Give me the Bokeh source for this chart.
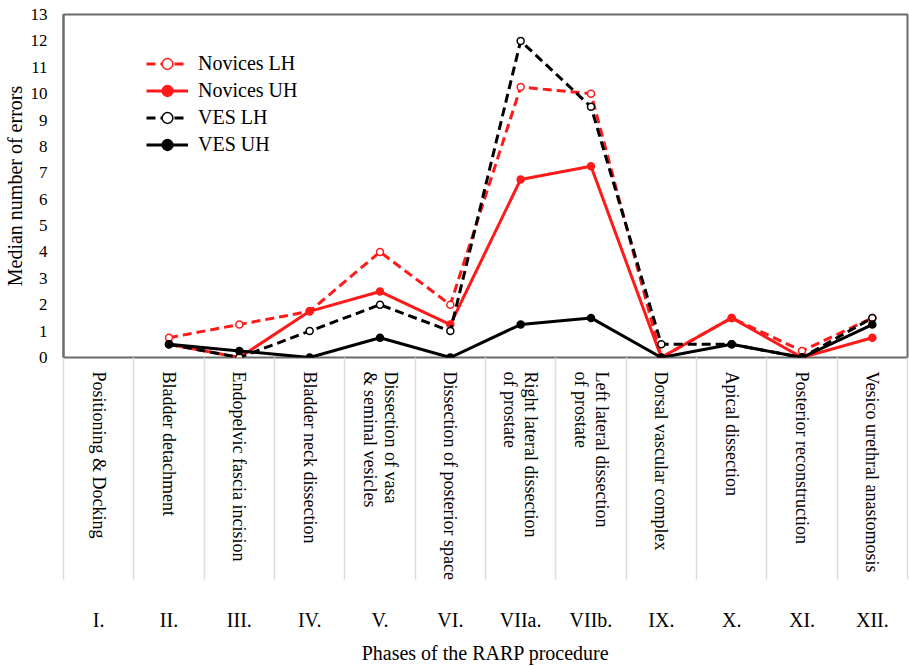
import math
import numpy as np
from bokeh.plotting import figure
from bokeh.models import (Range1d, LinearAxis, FixedTicker, Legend, LegendItem)
from bokeh.embed import file_html
from bokeh.resources import INLINE

phases = ["I.", "II.", "III.", "IV.", "V.", "VI.", "VIIa.", "VIIb.", "IX.", "X.", "XI.", "XII."]
phase_names = ["Positioning & Docking", "Bladder detachment", "Endopelvic fascia incision",
               "Bladder neck dissection", "Dissection of vasa\n& seminal vesicles",
               "Dissection of posterior space", "Right lateral dissection\nof prostate",
               "Left lateral dissection\nof prostate", "Dorsal vascular complex",
               "Apical dissection", "Posterior reconstruction", "Vesico urethral anastomosis"]
nan = float("nan")
novices_lh = [nan, 0.75, 1.25, 1.75, 4.0, 2.0, 10.25, 10.0, 0.0, 1.5, 0.25, 1.5]
novices_uh = [nan, 0.5, 0.0, 1.75, 2.5, 1.25, 6.75, 7.25, 0.0, 1.5, 0.0, 0.75]
ves_lh = [nan, 0.5, 0.0, 1.0, 2.0, 1.0, 12.0, 9.5, 0.5, 0.5, 0.0, 1.5]
ves_uh = [nan, 0.5, 0.25, 0.0, 0.75, 0.0, 1.25, 1.5, 0.0, 0.5, 0.0, 1.25]
y_ticks = list(range(0, 14))
series_names = ["Novices LH", "Novices UH", "VES LH", "VES UH"]

FONT = "Liberation Serif"
FRAME = "#6b6b6b"
RED = "#ff1a1a"
BLACK = "#000000"

n = len(phases)
centers = [i + 0.5 for i in range(n)]   # slot centre of each phase
bounds = list(range(n + 1))             # slot boundaries

p = figure(width=909, height=666, x_range=Range1d(0, n),
           y_range=Range1d(0, 13), x_axis_location=None, output_backend="svg",
           toolbar_location=None, min_border_top=14, min_border_right=2, min_border_left=63,
           min_border_bottom=0)
p.grid.visible = False
p.outline_line_color = FRAME
p.outline_line_width = 2
p.background_fill_color = "white"
p.border_fill_color = "white"

# y axis
ya = p.yaxis[0]
ya.ticker = FixedTicker(ticks=y_ticks)
ya.major_tick_line_color = None
ya.minor_tick_line_color = None
ya.axis_line_color = FRAME
ya.axis_line_width = 2
ya.major_label_text_font = FONT
ya.major_label_text_font_size = "17px"
ya.major_label_text_color = "black"
ya.major_label_standoff = 10
ya.axis_label = "Median number of errors"
ya.axis_label_text_font = FONT
ya.axis_label_text_font_size = "20px"
ya.axis_label_text_font_style = "normal"
ya.axis_label_text_color = "black"
ya.axis_label_standoff = 2

# long phase-name axis, boundaries drawn as long minor ticks
TICK_LEN = 222
name_axis = LinearAxis(ticker=FixedTicker(ticks=centers, minor_ticks=bounds),
                       major_label_overrides={c: nm for c, nm in zip(centers, phase_names)})
name_axis.major_label_orientation = -math.pi / 2
name_axis.major_tick_line_color = None
name_axis.major_tick_out = 0
name_axis.major_tick_in = 0
name_axis.minor_tick_line_color = "#dcdcdc"
name_axis.minor_tick_line_width = 1.5
name_axis.minor_tick_out = TICK_LEN
name_axis.minor_tick_in = 0
name_axis.axis_line_color = None
name_axis.major_label_standoff = 14 - TICK_LEN
name_axis.major_label_text_font = FONT
name_axis.major_label_text_font_size = "18px"
name_axis.major_label_text_color = "black"
name_axis.major_label_text_line_height = 1.05
p.add_layout(name_axis, "below")

roman_axis = LinearAxis(ticker=FixedTicker(ticks=centers, minor_ticks=[]),
                        major_label_overrides={c: r for c, r in zip(centers, phases)})
roman_axis.major_tick_line_color = None
roman_axis.minor_tick_line_color = None
roman_axis.axis_line_color = None
roman_axis.major_label_standoff = 20
roman_axis.major_label_text_font = FONT
roman_axis.major_label_text_font_size = "20px"
roman_axis.major_label_text_color = "black"
roman_axis.axis_label = "Phases of the RARP procedure"
roman_axis.axis_label_text_font = FONT
roman_axis.axis_label_text_font_size = "20px"
roman_axis.axis_label_text_font_style = "normal"
roman_axis.axis_label_text_color = "black"
roman_axis.axis_label_standoff = 8
p.add_layout(roman_axis, "below")

DASH = "9 5"
items = []
specs = [
    (novices_lh, RED, DASH, False),
    (novices_uh, RED, "solid", True),
    (ves_lh, BLACK, DASH, False),
    (ves_uh, BLACK, "solid", True),
]
for name, (vals, col, dash, filled) in zip(series_names, specs):
    y = np.array(vals, dtype=float)
    ln = p.line(centers, y, line_color=col, line_width=3, line_dash=dash)
    sc = p.scatter(centers, y, marker="circle", size=7, line_color=col, line_width=1.5,
                   fill_color=col if filled else "white")
    items.append(LegendItem(label=name, renderers=[ln, sc]))

legend = Legend(items=items, location=(83, 199))
legend.border_line_color = None
legend.background_fill_alpha = 0
legend.padding = 0
legend.margin = 0
legend.spacing = 0
legend.glyph_width = 42
legend.glyph_height = 27
legend.label_height = 27
legend.label_standoff = 10
legend.label_text_font = FONT
legend.label_text_font_size = "20px"
legend.label_text_color = "black"
p.add_layout(legend)

open("out.html", "w").write(file_html(p, INLINE))
